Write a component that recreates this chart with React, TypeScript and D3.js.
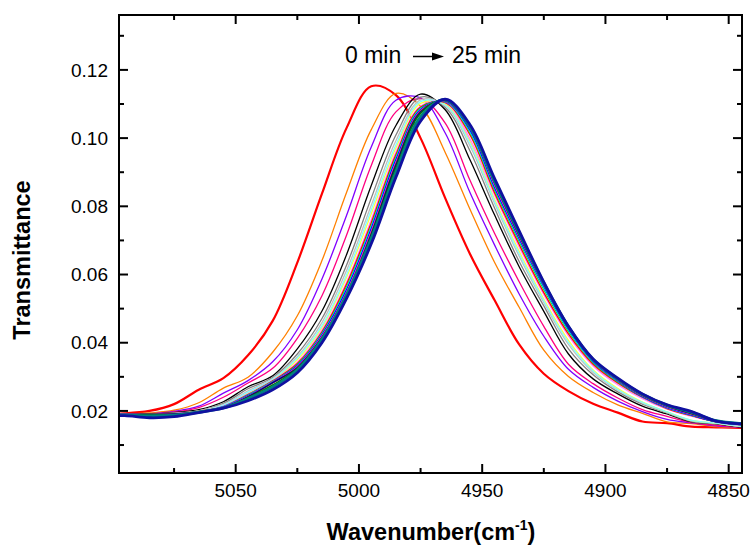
import React from "react";
import * as d3 from "d3";

// ---------- data ----------
const wavenumbers = [5105, 5095, 5085, 5075, 5065, 5055, 5045, 5035, 5025, 5015, 5005, 4995, 4985, 4975, 4965, 4955, 4945, 4935, 4925, 4915, 4905, 4895, 4885, 4875, 4865, 4855, 4845, 4835];

const s00 = [0.0192, 0.0193, 0.0200, 0.0220, 0.0262, 0.0296, 0.0363, 0.0464, 0.0635, 0.0837, 0.1030, 0.1152, 0.1126, 0.1000, 0.0824, 0.0661, 0.0525, 0.0395, 0.0309, 0.0258, 0.0221, 0.0195, 0.0169, 0.0164, 0.0154, 0.0152, 0.0150, 0.0149];
const s01 = [0.0190, 0.0190, 0.0194, 0.0202, 0.0224, 0.0267, 0.0299, 0.0372, 0.0479, 0.0641, 0.0841, 0.1025, 0.1131, 0.1094, 0.0958, 0.0792, 0.0636, 0.0504, 0.0378, 0.0301, 0.0254, 0.0218, 0.0193, 0.0168, 0.0163, 0.0154, 0.0152, 0.0151];
const s02 = [0.0190, 0.0190, 0.0192, 0.0199, 0.0214, 0.0252, 0.0289, 0.0344, 0.0438, 0.0587, 0.0774, 0.0974, 0.1111, 0.1118, 0.1015, 0.0841, 0.0687, 0.0543, 0.0419, 0.0322, 0.0269, 0.0229, 0.0198, 0.0175, 0.0165, 0.0156, 0.0152, 0.0151];
const s03 = [0.0190, 0.0190, 0.0191, 0.0197, 0.0210, 0.0240, 0.0282, 0.0325, 0.0413, 0.0538, 0.0716, 0.0920, 0.1077, 0.1115, 0.1044, 0.0877, 0.0721, 0.0579, 0.0448, 0.0337, 0.0280, 0.0238, 0.0204, 0.0184, 0.0166, 0.0158, 0.0153, 0.0152];
const s04 = [0.0189, 0.0190, 0.0190, 0.0195, 0.0204, 0.0227, 0.0271, 0.0303, 0.0382, 0.0493, 0.0659, 0.0861, 0.1037, 0.1129, 0.1083, 0.0937, 0.0775, 0.0623, 0.0492, 0.0367, 0.0294, 0.0250, 0.0214, 0.0191, 0.0168, 0.0162, 0.0153, 0.0152];
const s05 = [0.0190, 0.0190, 0.0190, 0.0194, 0.0200, 0.0222, 0.0265, 0.0298, 0.0367, 0.0471, 0.0628, 0.0824, 0.1009, 0.1120, 0.1090, 0.0963, 0.0795, 0.0638, 0.0508, 0.0382, 0.0306, 0.0256, 0.0220, 0.0194, 0.0169, 0.0163, 0.0154, 0.0153];
const s06 = [0.0190, 0.0190, 0.0190, 0.0193, 0.0200, 0.0219, 0.0259, 0.0295, 0.0359, 0.0459, 0.0612, 0.0803, 0.0992, 0.1112, 0.1095, 0.0978, 0.0809, 0.0654, 0.0518, 0.0395, 0.0313, 0.0261, 0.0223, 0.0196, 0.0171, 0.0164, 0.0155, 0.0154];
const s07 = [0.0190, 0.0190, 0.0190, 0.0192, 0.0199, 0.0215, 0.0252, 0.0291, 0.0350, 0.0445, 0.0592, 0.0778, 0.0971, 0.1102, 0.1099, 0.0991, 0.0821, 0.0668, 0.0528, 0.0407, 0.0320, 0.0266, 0.0226, 0.0197, 0.0172, 0.0164, 0.0155, 0.0154];
const s08 = [0.0191, 0.0190, 0.0191, 0.0192, 0.0199, 0.0217, 0.0255, 0.0293, 0.0355, 0.0450, 0.0600, 0.0790, 0.0980, 0.1107, 0.1097, 0.0985, 0.0815, 0.0661, 0.0523, 0.0401, 0.0317, 0.0263, 0.0225, 0.0197, 0.0172, 0.0164, 0.0155, 0.0154];
const s09 = [0.0190, 0.0190, 0.0190, 0.0192, 0.0199, 0.0214, 0.0250, 0.0289, 0.0343, 0.0437, 0.0578, 0.0761, 0.0959, 0.1094, 0.1104, 0.0998, 0.0833, 0.0681, 0.0541, 0.0420, 0.0332, 0.0277, 0.0236, 0.0205, 0.0184, 0.0167, 0.0158, 0.0157];
const s10 = [0.0190, 0.0190, 0.0190, 0.0192, 0.0199, 0.0213, 0.0248, 0.0288, 0.0339, 0.0432, 0.0572, 0.0752, 0.0952, 0.1091, 0.1104, 0.1010, 0.0840, 0.0688, 0.0547, 0.0426, 0.0337, 0.0282, 0.0240, 0.0207, 0.0186, 0.0168, 0.0159, 0.0158];
const s11 = [0.0189, 0.0189, 0.0191, 0.0191, 0.0199, 0.0212, 0.0247, 0.0286, 0.0336, 0.0428, 0.0564, 0.0744, 0.0945, 0.1088, 0.1106, 0.1017, 0.0848, 0.0697, 0.0556, 0.0433, 0.0341, 0.0285, 0.0241, 0.0209, 0.0187, 0.0168, 0.0160, 0.0159];
const s12 = [0.0190, 0.0190, 0.0189, 0.0192, 0.0198, 0.0213, 0.0246, 0.0286, 0.0334, 0.0426, 0.0560, 0.0740, 0.0941, 0.1086, 0.1106, 0.1020, 0.0852, 0.0701, 0.0561, 0.0437, 0.0343, 0.0287, 0.0242, 0.0209, 0.0188, 0.0169, 0.0159, 0.0158];
const s13 = [0.0190, 0.0190, 0.0190, 0.0191, 0.0198, 0.0212, 0.0245, 0.0285, 0.0333, 0.0424, 0.0556, 0.0735, 0.0937, 0.1084, 0.1107, 0.1024, 0.0855, 0.0705, 0.0565, 0.0440, 0.0345, 0.0288, 0.0242, 0.0210, 0.0188, 0.0168, 0.0160, 0.0159];
const s14 = [0.0191, 0.0191, 0.0190, 0.0192, 0.0197, 0.0211, 0.0243, 0.0284, 0.0330, 0.0420, 0.0549, 0.0727, 0.0929, 0.1081, 0.1108, 0.1030, 0.0862, 0.0710, 0.0569, 0.0444, 0.0348, 0.0290, 0.0244, 0.0212, 0.0190, 0.0169, 0.0161, 0.0160];
const s15 = [0.0190, 0.0190, 0.0191, 0.0191, 0.0197, 0.0210, 0.0242, 0.0283, 0.0328, 0.0417, 0.0545, 0.0722, 0.0925, 0.1079, 0.1109, 0.1032, 0.0866, 0.0713, 0.0571, 0.0446, 0.0349, 0.0291, 0.0245, 0.0213, 0.0191, 0.0170, 0.0161, 0.0160];
const s16 = [0.0189, 0.0189, 0.0190, 0.0190, 0.0197, 0.0210, 0.0240, 0.0282, 0.0326, 0.0414, 0.0540, 0.0716, 0.0920, 0.1076, 0.1111, 0.1036, 0.0871, 0.0716, 0.0574, 0.0449, 0.0351, 0.0293, 0.0247, 0.0215, 0.0193, 0.0171, 0.0162, 0.0161];
const s17 = [0.0190, 0.0190, 0.0190, 0.0191, 0.0197, 0.0210, 0.0241, 0.0283, 0.0327, 0.0415, 0.0541, 0.0718, 0.0921, 0.1077, 0.1110, 0.1035, 0.0870, 0.0715, 0.0573, 0.0448, 0.0350, 0.0292, 0.0246, 0.0214, 0.0192, 0.0170, 0.0161, 0.0160];
const s18 = [0.0189, 0.0189, 0.0188, 0.0189, 0.0196, 0.0209, 0.0239, 0.0276, 0.0324, 0.0412, 0.0536, 0.0712, 0.0912, 0.1072, 0.1111, 0.1032, 0.0870, 0.0720, 0.0575, 0.0447, 0.0352, 0.0293, 0.0248, 0.0216, 0.0194, 0.0172, 0.0162, 0.0161];
const s19 = [0.0188, 0.0188, 0.0185, 0.0187, 0.0196, 0.0209, 0.0236, 0.0270, 0.0320, 0.0410, 0.0540, 0.0705, 0.0900, 0.1062, 0.1112, 0.1034, 0.0874, 0.0722, 0.0575, 0.0447, 0.0351, 0.0294, 0.0249, 0.0217, 0.0196, 0.0171, 0.0163, 0.0162];
const s20 = [0.0187, 0.0186, 0.0180, 0.0183, 0.0195, 0.0208, 0.0230, 0.0262, 0.0312, 0.0400, 0.0530, 0.0690, 0.0885, 0.1050, 0.1114, 0.1040, 0.0882, 0.0728, 0.0578, 0.0448, 0.0352, 0.0296, 0.0250, 0.0218, 0.0198, 0.0170, 0.0162, 0.0161];

const seriesList = [s00, s01, s02, s03, s04, s05, s06, s07, s08, s09, s10, s11, s12, s13, s14, s15, s16, s17, s18, s19, s20];
const seriesColors = ["#FF0000", "#FF8000", "#8000FF", "#FF0080", "#000000", "#808080", "#C0C0C0", "#FFFF40", "#80FFFF", "#FF80FF", "#FF0000", "#00E000", "#00FFFF", "#0000FF", "#FF00FF", "#808000", "#800080", "#000080", "#008000", "#008080", "#1010A0"];
const seriesWidths = [2.2, 1.3, 1.3, 1.3, 1.3, 1.3, 1.3, 1.3, 1.3, 1.3, 1.3, 1.3, 1.3, 1.3, 1.3, 1.3, 1.3, 1.3, 1.5, 3, 2.8];

const xMajorTicks = [5050, 5000, 4950, 4900, 4850];
const xMinorTicks = [5075, 5025, 4975, 4925, 4875];
const yMajorTicks = [0.02, 0.04, 0.06, 0.08, 0.1, 0.12];
const yMinorTicks = [0.01, 0.03, 0.05, 0.07, 0.09, 0.11, 0.13];

const xTitle = "Wavenumber(cm";
const yTitle = "Transmittance";
const annStart = "0 min";
const annEnd = "25 min";

// ---------- layout ----------
const W = 752, H = 545;
const L = 119, R = 742, T = 15, B = 473;
const FONT = "'Liberation Sans', Arial, Helvetica, sans-serif";

export default function App() {
  const x = d3.scaleLinear().domain([5097.34, 4844.6]).range([L, R]);
  const y = d3.scaleLinear().domain([0.0018, 0.1361]).range([B, T]);
  const line = d3
    .line<number>()
    .x((_, i) => x(wavenumbers[i]))
    .y((d) => y(d))
    .curve(d3.curveCatmullRom.alpha(0.5));

  const majorLen = 9, minorLen = 5;

  return (
    <svg width={W} height={H} style={{ position: "absolute", left: 0, top: 0, background: "#fff" }} fontFamily={FONT}>
      <defs>
        <clipPath id="plotclip">
          <rect x={L + 1} y={T + 1} width={R - L - 2} height={B - T - 2} />
        </clipPath>
      </defs>
      <rect x={0} y={0} width={W} height={H} fill="#fff" />
      <g clipPath="url(#plotclip)" fill="none" strokeLinejoin="round" strokeLinecap="round">
        {seriesList.map((s, i) => (
          <path key={i} d={line(s) || ""} stroke={seriesColors[i]} strokeWidth={seriesWidths[i]} />
        ))}
      </g>
      {/* frame */}
      <rect x={L} y={T} width={R - L} height={B - T} fill="none" stroke="#000" strokeWidth={2} />
      {/* x ticks bottom & top */}
      <g stroke="#000" strokeWidth={2}>
        {xMajorTicks.map((t) => (
          <g key={"xm" + t}>
            <line x1={x(t)} x2={x(t)} y1={B} y2={B - majorLen} />
            <line x1={x(t)} x2={x(t)} y1={T} y2={T + majorLen} />
          </g>
        ))}
        {xMinorTicks.map((t) => (
          <g key={"xn" + t}>
            <line x1={x(t)} x2={x(t)} y1={B} y2={B - minorLen} />
            <line x1={x(t)} x2={x(t)} y1={T} y2={T + minorLen} />
          </g>
        ))}
        {yMajorTicks.map((t) => (
          <g key={"ym" + t}>
            <line x1={L} x2={L + majorLen} y1={y(t)} y2={y(t)} />
            <line x1={R} x2={R - majorLen} y1={y(t)} y2={y(t)} />
          </g>
        ))}
        {yMinorTicks.map((t) => (
          <g key={"yn" + t}>
            <line x1={L} x2={L + minorLen} y1={y(t)} y2={y(t)} />
            <line x1={R} x2={R - minorLen} y1={y(t)} y2={y(t)} />
          </g>
        ))}
      </g>
      {/* tick labels */}
      <g fontSize={19} fill="#000">
        {xMajorTicks.map((t) => (
          <text key={"xl" + t} x={x(t)} y={497} textAnchor="middle">
            {String(t)}
          </text>
        ))}
        {yMajorTicks.map((t) => (
          <text key={"yl" + t} x={108} y={y(t)} dy="0.35em" textAnchor="end">
            {d3.format(".2f")(t)}
          </text>
        ))}
      </g>
      {/* axis titles */}
      <text x={431} y={540} textAnchor="middle" fontSize={23.5} fontWeight="bold" fill="#000">
        {xTitle}
        <tspan fontSize={14} dy={-10}>-1</tspan>
        <tspan dy={10}>)</tspan>
      </text>
      <text transform="translate(30,260) rotate(-90)" textAnchor="middle" fontSize={23.5} fontWeight="bold" fill="#000">
        {yTitle}
      </text>
      {/* annotation */}
      <text x={345} y={63} fontSize={23} fill="#000">{annStart}</text>
      <line x1={413} x2={435} y1={56.5} y2={56.5} stroke="#000" strokeWidth={1.5} />
      <polygon points="444,56.5 432,52.5 432,60.5" fill="#000" />
      <text x={452} y={63} fontSize={23} fill="#000">{annEnd}</text>
    </svg>
  );
}
